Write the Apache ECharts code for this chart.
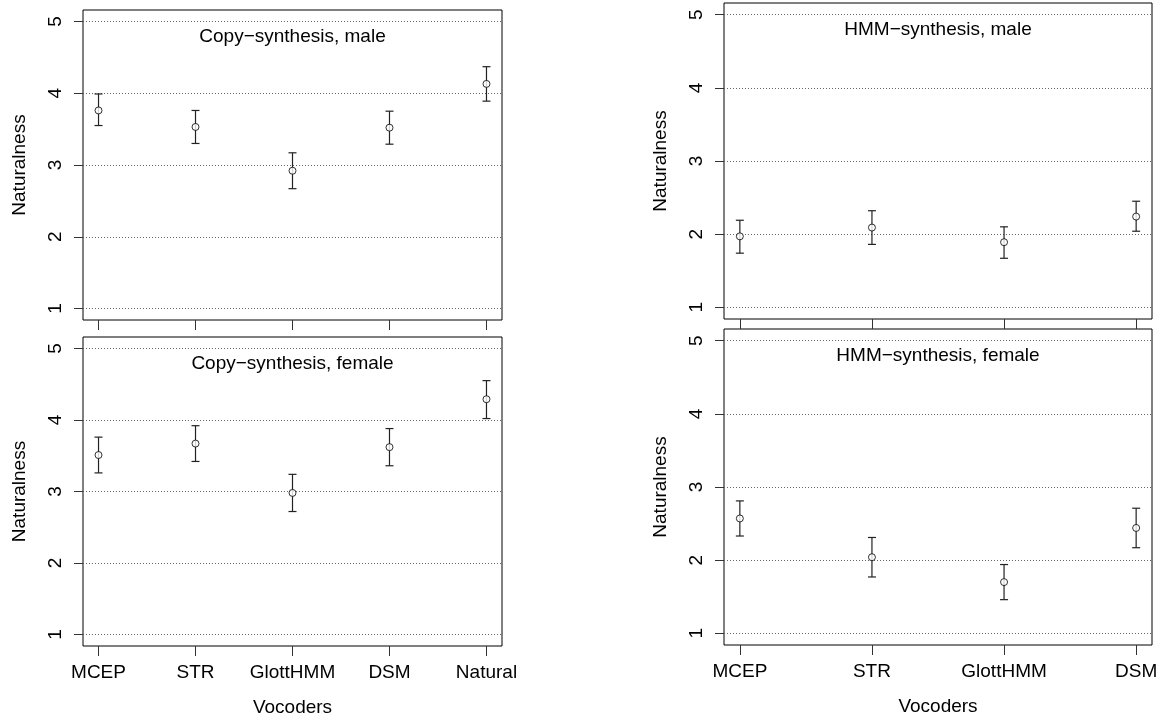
<!DOCTYPE html>
<html>
<head>
<meta charset="utf-8">
<script src="https://cdn.jsdelivr.net/npm/echarts@6/dist/echarts.min.js"></script>
<style>
  html, body { margin: 0; padding: 0; background: #fff; }
  #chart { width: 1157px; height: 716px; }
</style>
</head>
<body>
<div id="chart"></div>
<script>
// vocoder names per row of panels
const copyVocoders = ['MCEP', 'STR', 'GlottHMM', 'DSM', 'Natural'];
const hmmVocoders = ['MCEP', 'STR', 'GlottHMM', 'DSM'];
const yTicks = [1, 2, 3, 4, 5];

// Copy-synthesis, male
const copyMaleMean = [3.76, 3.53, 2.92, 3.52, 4.13];
const copyMaleLow = [3.55, 3.30, 2.67, 3.29, 3.89];
const copyMaleHigh = [3.99, 3.76, 3.17, 3.75, 4.37];

// Copy-synthesis, female
const copyFemaleMean = [3.51, 3.67, 2.98, 3.62, 4.29];
const copyFemaleLow = [3.26, 3.42, 2.72, 3.36, 4.02];
const copyFemaleHigh = [3.76, 3.92, 3.24, 3.88, 4.55];

// HMM-synthesis, male
const hmmMaleMean = [1.97, 2.09, 1.89, 2.24];
const hmmMaleLow = [1.74, 1.86, 1.67, 2.04];
const hmmMaleHigh = [2.19, 2.32, 2.10, 2.45];

// HMM-synthesis, female
const hmmFemaleMean = [2.57, 2.04, 1.70, 2.44];
const hmmFemaleLow = [2.33, 1.77, 1.46, 2.17];
const hmmFemaleHigh = [2.81, 2.31, 1.94, 2.71];

const FONT = '"Liberation Sans", Arial, Helvetica, sans-serif';

const panels = [
    { title: 'Copy\u2212synthesis, male', cats: copyVocoders, mean: copyMaleMean, low: copyMaleLow, high: copyMaleHigh,
      grid: { left: 83, top: 10, width: 419, height: 310 }, showX: false },
    { title: 'Copy\u2212synthesis, female', cats: copyVocoders, mean: copyFemaleMean, low: copyFemaleLow, high: copyFemaleHigh,
      grid: { left: 83, top: 337, width: 419, height: 309 }, showX: true },
    { title: 'HMM\u2212synthesis, male', cats: hmmVocoders, mean: hmmMaleMean, low: hmmMaleLow, high: hmmMaleHigh,
      grid: { left: 724, top: 3, width: 428, height: 316 }, showX: false },
    { title: 'HMM\u2212synthesis, female', cats: hmmVocoders, mean: hmmFemaleMean, low: hmmFemaleLow, high: hmmFemaleHigh,
      grid: { left: 724, top: 329, width: 428, height: 316 }, showX: true }
];

const grids = [], xAxes = [], yAxes = [], series = [], graphics = [];

panels.forEach((p, i) => {
    const n = p.cats.length;
    const pad = 0.04 * (n - 1);
    const xTicks = p.cats.map((c, k) => k + 1);

    grids.push(Object.assign({
        show: true, borderColor: '#000', borderWidth: 1,
        backgroundColor: 'transparent', containLabel: false, outerBoundsMode: 'none'
    }, p.grid));

    xAxes.push({
        type: 'value', gridIndex: i,
        min: 1 - pad, max: n + pad,
        axisLine: { show: false },
        axisTick: { show: true, customValues: xTicks, length: 10, lineStyle: { color: '#333' } },
        axisLabel: {
            show: p.showX, customValues: xTicks, margin: 17,
            fontFamily: FONT, fontSize: 19, color: '#000',
            formatter: v => p.cats[Math.round(v) - 1] || ''
        },
        splitLine: { show: false },
        name: p.showX ? 'Vocoders' : '',
        nameLocation: 'middle', nameGap: 52, nameMoveOverlap: false,
        nameTextStyle: { fontFamily: FONT, fontSize: 19, color: '#000' }
    });

    yAxes.push({
        type: 'value', gridIndex: i,
        min: 0.84, max: 5.16,
        axisLine: { show: false },
        axisTick: { show: true, customValues: yTicks, length: 9, lineStyle: { color: '#333' } },
        axisLabel: {
            customValues: yTicks, rotate: 90, margin: 18,
            fontFamily: FONT, fontSize: 19, color: '#000',
            formatter: v => String(Math.round(v))
        },
        splitLine: { show: true, lineStyle: { color: '#666', type: [1, 2], width: 1 } },
        name: 'Naturalness', nameLocation: 'middle', nameGap: 54, nameMoveOverlap: false,
        nameTextStyle: { fontFamily: FONT, fontSize: 19, color: '#000' }
    });

    series.push({
        type: 'custom', xAxisIndex: i, yAxisIndex: i,
        data: p.mean.map((m, k) => [k + 1, p.low[k], p.high[k]]),
        renderItem: function (params, api) {
            const x = api.value(0);
            const top = api.coord([x, api.value(2)]);
            const bot = api.coord([x, api.value(1)]);
            const w = 4;
            const st = { stroke: '#222', lineWidth: 1.2 };
            return {
                type: 'group',
                children: [
                    { type: 'line', shape: { x1: top[0], y1: top[1], x2: bot[0], y2: bot[1] }, style: st },
                    { type: 'line', shape: { x1: top[0] - w, y1: top[1], x2: top[0] + w, y2: top[1] }, style: st },
                    { type: 'line', shape: { x1: bot[0] - w, y1: bot[1], x2: bot[0] + w, y2: bot[1] }, style: st }
                ]
            };
        },
        silent: true, z: 2
    });

    series.push({
        type: 'scatter', xAxisIndex: i, yAxisIndex: i,
        data: p.mean.map((m, k) => [k + 1, m]),
        symbol: 'circle', symbolSize: 7,
        itemStyle: { color: '#fff', borderColor: '#000', borderWidth: 1 },
        silent: true, z: 3
    });

    graphics.push({
        type: 'text',
        x: p.grid.left + p.grid.width / 2,
        y: p.grid.top + 17,
        style: {
            text: p.title, font: '19px ' + FONT, fill: '#000',
            align: 'center', verticalAlign: 'top',
            textAlign: 'center', textVerticalAlign: 'top'
        },
        z: 10
    });
});

const myChart = echarts.init(document.getElementById('chart'), null, { renderer: 'canvas' });
myChart.setOption({
    animation: false,
    backgroundColor: '#fff',
    grid: grids,
    xAxis: xAxes,
    yAxis: yAxes,
    series: series,
    graphic: graphics
});
</script>
</body>
</html>
